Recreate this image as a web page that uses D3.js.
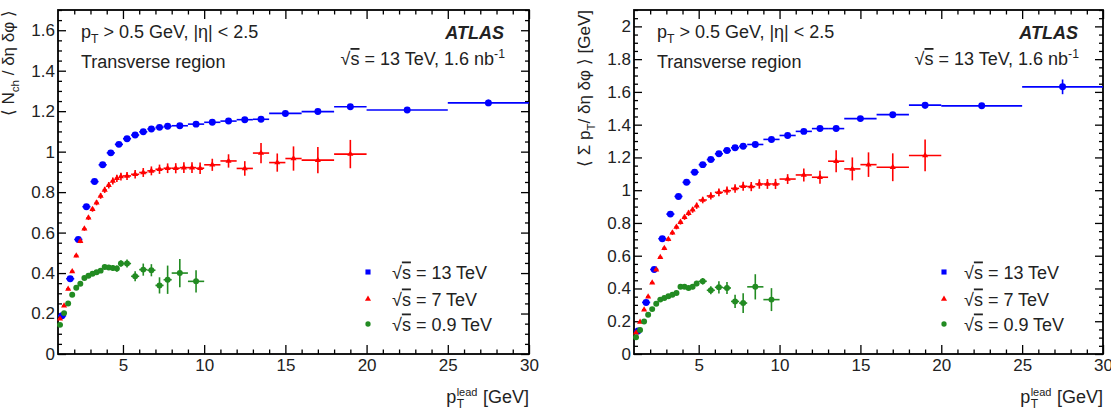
<!DOCTYPE html>
<html lang="en">
<head>
<meta charset="utf-8">
<title>Transverse region - ATLAS</title>
<script src="https://d3js.org/d3.v7.min.js"></script>
<style>
  body { margin: 0; background: #fff; }
  svg text { font-family: "Liberation Sans", Arial, Helvetica, sans-serif; fill: #222; }
</style>
</head>
<body>
<svg id="chart" width="1111" height="415"></svg>
<script>
// bin edges in pT lead [GeV] for each data set
let edges13 = [1, 1.5, 2, 2.5, 3, 3.5, 4, 4.5, 5, 5.5, 6, 6.5, 7, 7.5, 8, 9, 10, 11, 12, 13, 14, 16, 18, 20, 25, 30];
let edges7 = [1, 1.25, 1.5, 1.75, 2, 2.25, 2.5, 2.75, 3, 3.25, 3.5, 3.75, 4, 4.25, 4.5, 4.75, 5,
              5.5, 6, 6.5, 7, 7.5, 8, 8.5, 9, 9.5, 10, 11, 12, 13, 14, 15, 16, 18, 20];
let edges09 = [1, 1.25, 1.5, 1.75, 2, 2.25, 2.5, 2.75, 3, 3.25, 3.5, 3.75, 4, 4.25, 4.5, 4.75, 5,
               5.5, 6, 6.5, 7, 7.5, 8, 9, 10];

// < Nch / deta dphi >
let nch13 = [0.189, 0.372, 0.566, 0.728, 0.852, 0.935, 0.994, 1.036, 1.064, 1.082, 1.098, 1.112, 1.120, 1.125,
             1.128, 1.136, 1.145, 1.151, 1.158, 1.160, 1.189, 1.198, 1.222, 1.206, 1.241];
let nch13Err = [0.002, 0.002, 0.002, 0.002, 0.002, 0.002, 0.002, 0.002, 0.002, 0.002, 0.002, 0.002, 0.003, 0.003,
                0.003, 0.003, 0.004, 0.004, 0.005, 0.005, 0.005, 0.007, 0.009, 0.008, 0.016];
let nch7 = [0.174, 0.238, 0.321, 0.408, 0.486, 0.557, 0.619, 0.673, 0.715, 0.748, 0.781, 0.811, 0.834, 0.855, 0.868, 0.877,
            0.880, 0.888, 0.897, 0.905, 0.913, 0.918, 0.918, 0.921, 0.921, 0.918,
            0.935, 0.954, 0.917, 0.993, 0.946, 0.966, 0.958, 0.988];
let nch7Err = [0.004, 0.005, 0.006, 0.007, 0.008, 0.009, 0.010, 0.011, 0.012, 0.013, 0.014, 0.015, 0.016, 0.017, 0.018, 0.019,
               0.020, 0.021, 0.022, 0.022, 0.023, 0.024, 0.025, 0.026, 0.027, 0.028,
               0.030, 0.033, 0.036, 0.050, 0.045, 0.060, 0.065, 0.070];
let nch09 = [0.144, 0.202, 0.250, 0.293, 0.327, 0.347, 0.376, 0.387, 0.397, 0.404, 0.412, 0.430, 0.428, 0.425, 0.422, 0.447,
             0.447, 0.384, 0.417, 0.414, 0.339, 0.367, 0.400, 0.359];
let nch09Err = [0.003, 0.003, 0.004, 0.004, 0.005, 0.005, 0.006, 0.007, 0.008, 0.009, 0.010, 0.011, 0.012, 0.013, 0.015, 0.016,
                0.020, 0.025, 0.030, 0.030, 0.040, 0.070, 0.070, 0.055];

// < sum pT / deta dphi > [GeV]
let pt13 = [0.141, 0.315, 0.516, 0.704, 0.854, 0.962, 1.048, 1.110, 1.156, 1.187, 1.222, 1.242, 1.259, 1.268,
            1.279, 1.310, 1.334, 1.359, 1.376, 1.376, 1.437, 1.461, 1.519, 1.515, 1.631];
let pt13Err = [0.002, 0.002, 0.002, 0.002, 0.003, 0.003, 0.003, 0.003, 0.003, 0.003, 0.003, 0.003, 0.004, 0.004,
               0.004, 0.004, 0.005, 0.005, 0.006, 0.006, 0.007, 0.009, 0.020, 0.015, 0.045];
let pt7 = [0.130, 0.195, 0.270, 0.350, 0.435, 0.515, 0.590, 0.645, 0.700, 0.740, 0.775, 0.805, 0.835, 0.860, 0.880, 0.905,
           0.940, 0.965, 0.987, 0.997, 1.011, 1.024, 1.022, 1.038, 1.038, 1.038,
           1.068, 1.093, 1.079, 1.177, 1.130, 1.156, 1.140, 1.212];
let pt7Err = [0.004, 0.005, 0.006, 0.007, 0.008, 0.009, 0.010, 0.011, 0.012, 0.013, 0.014, 0.015, 0.016, 0.017, 0.018, 0.019,
              0.020, 0.022, 0.024, 0.025, 0.026, 0.027, 0.028, 0.029, 0.030, 0.031,
              0.030, 0.040, 0.040, 0.067, 0.070, 0.075, 0.085, 0.097];
let pt09 = [0.102, 0.147, 0.198, 0.239, 0.274, 0.307, 0.332, 0.342, 0.352, 0.362, 0.373, 0.410, 0.410, 0.403, 0.410, 0.430,
            0.444, 0.389, 0.407, 0.403, 0.321, 0.311, 0.410, 0.332];
let pt09Err = [0.003, 0.003, 0.004, 0.004, 0.005, 0.005, 0.006, 0.007, 0.008, 0.009, 0.010, 0.011, 0.012, 0.013, 0.015, 0.016,
               0.020, 0.025, 0.037, 0.037, 0.040, 0.060, 0.077, 0.070];

let xTicks = [5, 10, 15, 20, 25, 30];
let yTicksNch = [0, 0.2, 0.4, 0.6, 0.8, 1, 1.2, 1.4, 1.6];
let yTicksPt = [0, 0.2, 0.4, 0.6, 0.8, 1, 1.2, 1.4, 1.6, 1.8, 2];
let legendLabels = ["13 TeV", "7 TeV", "0.9 TeV"];

let colors = { c13: "#0000ff", c7: "#ff0000", c09: "#228b22" };

let svg = d3.select("#chart");

// turn edges + values into points with x error = half bin width
function makeBins(edges, vals, errs) {
	return vals.map(function(v, i) {
		return { xl: edges[i], xh: edges[i + 1], x: (edges[i] + edges[i + 1]) / 2, y: v, e: errs[i] };
	});
}

// text with sub/superscripts and sqrt overline, parts = [[text, kind], ...]
function richText(parent, x, y, anchor, parts, size) {
	let t = parent.append("text")
		.attr("x", x).attr("y", y)
		.attr("text-anchor", anchor)
		.style("font-size", size + "px")
		.style("white-space", "pre");
	let shift = 0;
	parts.forEach(function(p) {
		let s = t.append("tspan").text(p[0]);
		let target = 0;
		if (p[1] == "sub") { target = 5; s.style("font-size", (size * 0.68) + "px"); }
		if (p[1] == "sup") { target = -7; s.style("font-size", (size * 0.68) + "px"); }
		if (p[1] == "ovl") { s.style("text-decoration", "overline"); }
		if (target != shift) { s.attr("dy", target - shift); shift = target; }
	});
	return t;
}

function drawPanel(p) {
	let g = svg.append("g").attr("transform", "translate(" + p.left + "," + p.top + ")");
	let x = d3.scaleLinear().domain([1, 30]).range([0, p.w]);
	let y = d3.scaleLinear().domain([0, p.yMax]).range([p.h, 0]);

	let xMinor = d3.range(2, 30).filter(d => d % 5 != 0);
	let yMinor = d3.range(0, Math.round(p.yMax / 0.05) + 1).map(i => i * 0.05).filter((d, i) => i % 4 != 0);

	function axisStyle(sel, size) {
		sel.select(".domain").remove();
		sel.selectAll(".tick line").attr("stroke", "#000").attr("stroke-width", 1.3);
		sel.selectAll(".tick text").style("font-size", size + "px").attr("fill", "#222");
	}

	// bottom / top
	g.append("g").attr("transform", "translate(0," + p.h + ")")
		.call(d3.axisBottom(x).tickValues(xTicks).tickSize(-9).tickPadding(5))
		.call(a => axisStyle(a, 17));
	g.append("g").attr("transform", "translate(0," + p.h + ")")
		.call(d3.axisBottom(x).tickValues(xMinor).tickSize(-4.5).tickFormat(""))
		.call(a => axisStyle(a, 17));
	g.append("g").call(d3.axisTop(x).tickValues(xTicks).tickSize(-9).tickFormat(""))
		.call(a => axisStyle(a, 17));
	g.append("g").call(d3.axisTop(x).tickValues(xMinor).tickSize(-4.5).tickFormat(""))
		.call(a => axisStyle(a, 17));
	// left / right
	g.append("g").call(d3.axisLeft(y).tickValues(p.yTicks).tickSize(-8).tickPadding(3).tickFormat(d3.format("~g")))
		.call(a => axisStyle(a, 17));
	g.append("g").call(d3.axisLeft(y).tickValues(yMinor).tickSize(-4).tickFormat(""))
		.call(a => axisStyle(a, 17));
	g.append("g").attr("transform", "translate(" + p.w + ",0)")
		.call(d3.axisRight(y).tickValues(p.yTicks).tickSize(-8).tickFormat(""))
		.call(a => axisStyle(a, 17));
	g.append("g").attr("transform", "translate(" + p.w + ",0)")
		.call(d3.axisRight(y).tickValues(yMinor).tickSize(-4).tickFormat(""))
		.call(a => axisStyle(a, 17));

	g.append("rect").attr("width", p.w).attr("height", p.h)
		.attr("fill", "none").attr("stroke", "#000").attr("stroke-width", 1.8);

	// data: error crosses then markers
	p.series.forEach(function(s) {
		let sg = g.append("g");
		sg.selectAll("line.xe").data(s.data).enter().append("line")
			.attr("x1", d => x(d.xl)).attr("x2", d => x(d.xh))
			.attr("y1", d => y(d.y)).attr("y2", d => y(d.y))
			.attr("stroke", s.color).attr("stroke-width", 1.6);
		sg.selectAll("line.ye").data(s.data).enter().append("line")
			.attr("x1", d => x(d.x)).attr("x2", d => x(d.x))
			.attr("y1", d => y(d.y - d.e)).attr("y2", d => y(d.y + d.e))
			.attr("stroke", s.color).attr("stroke-width", 1.6);
		sg.selectAll("path.m").data(s.data).enter().append("path")
			.attr("transform", d => "translate(" + x(d.x) + "," + y(d.y) + ")")
			.attr("d", d3.symbol().type(s.shape).size(s.size))
			.attr("fill", s.color);
	});

	// labels
	richText(g, 23, 28, "start", [["p"], ["T", "sub"], [" > 0.5 GeV, |η| < 2.5"]], 18);
	g.append("text").attr("x", 23).attr("y", 58).style("font-size", "18px").text("Transverse region");
	g.append("text").attr("x", p.w - 25).attr("y", 29).attr("text-anchor", "end")
		.style("font-size", "18px").style("font-weight", "bold").style("font-style", "italic").text("ATLAS");
	richText(g, p.w - 24, 55, "end", [["√"], ["s", "ovl"], [" = 13 TeV, 1.6 nb"], ["-1", "sup"]], 18);

	// legend
	let legY = [262, 289, 314];
	let legShapes = [
		{ shape: d3.symbolSquare, size: 26, color: colors.c13 },
		{ shape: d3.symbolTriangle, size: 16, color: colors.c7 },
		{ shape: d3.symbolCircle, size: 22, color: colors.c09 }
	];
	legendLabels.forEach(function(lab, i) {
		g.append("path")
			.attr("transform", "translate(" + 310 + "," + legY[i] + ")")
			.attr("d", d3.symbol().type(legShapes[i].shape).size(legShapes[i].size))
			.attr("fill", legShapes[i].color);
		richText(g, p.legText, legY[i] + 6.5, "start", [["√"], ["s", "ovl"], [" = " + lab]], 18);
	});

	// x title p_T^lead [GeV], right aligned on axis end
	let xt = g.append("g");
	let t1 = xt.append("text").attr("x", 0).attr("y", 0).style("font-size", "18px").text("p");
	let pw = t1.node().getComputedTextLength();
	let lead = xt.append("text").attr("x", pw + 0.5).attr("y", -7).style("font-size", "11px").text("lead");
	xt.append("text").attr("x", pw + 0.5).attr("y", 5).style("font-size", "12px").text("T");
	let lw = lead.node().getComputedTextLength();
	xt.append("text").attr("x", pw + lw + 6).attr("y", 0).style("font-size", "18px").text("[GeV]");
	let bw = xt.node().getBBox();
	xt.attr("transform", "translate(" + (p.w - bw.x - bw.width) + "," + (p.h + 49) + ")");

	// y title, rotated, aligned to the top of the axis
	richText(g, 0, 0, "end", p.yTitle, 17)
		.attr("transform", "translate(-44,0) rotate(-90)");
}

drawPanel({
	left: 58, top: 10, w: 471, h: 344, yMax: 1.7, yTicks: yTicksNch, legText: 334,
	yTitle: [["⟨ N"], ["ch", "sub"], [" / δη δφ ⟩"]],
	series: [
		{ data: makeBins(edges13, nch13, nch13Err), color: colors.c13, shape: d3.symbolCircle, size: 38 },
		{ data: makeBins(edges7, nch7, nch7Err), color: colors.c7, shape: d3.symbolTriangle, size: 16 },
		{ data: makeBins(edges09, nch09, nch09Err), color: colors.c09, shape: d3.symbolCircle, size: 28 }
	]
});

drawPanel({
	left: 634, top: 10, w: 469, h: 344, yMax: 2.1, yTicks: yTicksPt, legText: 330,
	yTitle: [["⟨ Σ p"], ["T", "sub"], ["/ δη δφ ⟩ [GeV]"]],
	series: [
		{ data: makeBins(edges13, pt13, pt13Err), color: colors.c13, shape: d3.symbolCircle, size: 38 },
		{ data: makeBins(edges7, pt7, pt7Err), color: colors.c7, shape: d3.symbolTriangle, size: 16 },
		{ data: makeBins(edges09, pt09, pt09Err), color: colors.c09, shape: d3.symbolCircle, size: 28 }
	]
});
</script>
</body>
</html>
